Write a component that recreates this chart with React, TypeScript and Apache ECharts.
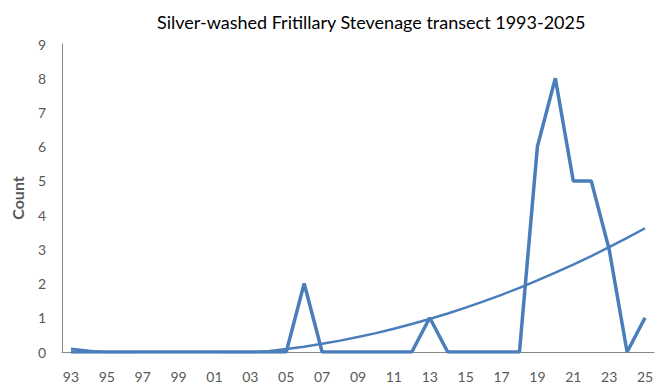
import React, { useEffect, useRef } from "react";
import * as echarts from "echarts";

const years: string[] = [
  "93", "94", "95", "96", "97", "98", "99", "00", "01", "02", "03", "04",
  "05", "06", "07", "08", "09", "10", "11", "12", "13", "14", "15", "16",
  "17", "18", "19", "20", "21", "22", "23", "24", "25",
];
const counts: number[] = [
  0, 0, 0, 0, 0, 0, 0, 0, 0, 0, 0, 0,
  0, 2, 0, 0, 0, 0, 0, 0, 1, 0, 0, 0,
  0, 0, 6, 8, 5, 5, 3, 0, 1,
];
const yTicks: number[] = [0, 1, 2, 3, 4, 5, 6, 7, 8, 9];
const titleText = "Silver-washed Fritillary Stevenage transect 1993-2025";
const yName = "Count";

// Quadratic least-squares trendline fitted to the counts (as the source's polynomial trendline)
function polyTrend(ys: number[]): number[] {
  const n = ys.length;
  let s0 = 0, s1 = 0, s2 = 0, s3 = 0, s4 = 0, t0 = 0, t1 = 0, t2 = 0;
  for (let i = 0; i < n; i++) {
    const x = i;
    s0 += 1; s1 += x; s2 += x * x; s3 += x * x * x; s4 += x * x * x * x;
    t0 += ys[i]; t1 += x * ys[i]; t2 += x * x * ys[i];
  }
  const M = [
    [s0, s1, s2, t0],
    [s1, s2, s3, t1],
    [s2, s3, s4, t2],
  ];
  for (let c = 0; c < 3; c++) {
    for (let r = c + 1; r < 3; r++) {
      const f = M[r][c] / M[c][c];
      for (let k = c; k < 4; k++) M[r][k] -= f * M[c][k];
    }
  }
  const coef = [0, 0, 0];
  for (let r = 2; r >= 0; r--) {
    let s = M[r][3];
    for (let k = r + 1; k < 3; k++) s -= M[r][k] * coef[k];
    coef[r] = s / M[r][r];
  }
  return ys.map((_, i) => coef[0] + coef[1] * i + coef[2] * i * i);
}

export default function App() {
  const ref = useRef<HTMLDivElement>(null);
  useEffect(() => {
    if (!ref.current) return;
    const chart = echarts.init(ref.current, undefined, { renderer: "svg" });
    const font = "Lato, 'Open Sans', sans-serif";
    const blue = "#4A7EBB";
    chart.setOption({
      animation: false,
      backgroundColor: "#ffffff",
      textStyle: { fontFamily: font },
      title: {
        text: titleText,
        left: 152,
        top: 8,
        textStyle: { fontFamily: font, fontSize: 18, fontWeight: "normal", color: "#000000" },
      },
      grid: { left: 62, right: 11, top: 44, bottom: 40, containLabel: false },
      xAxis: {
        type: "category",
        data: years,
        boundaryGap: true,
        axisLine: { show: true, lineStyle: { color: "#868686", width: 1 } },
        axisTick: { show: false },
        axisLabel: {
          interval: 1,
          color: "#595959",
          fontSize: 14,
          fontFamily: font,
          margin: 17,
        },
        splitLine: { show: false },
      },
      yAxis: {
        type: "value",
        min: yTicks[0],
        max: yTicks[yTicks.length - 1],
        interval: 1,
        name: yName,
        nameLocation: "middle",
        nameGap: 37,
        nameTextStyle: { color: "#595959", fontSize: 16, fontWeight: "bold", fontFamily: font },
        axisLine: { show: true, lineStyle: { color: "#868686", width: 1 } },
        axisTick: { show: false },
        axisLabel: { color: "#595959", fontSize: 14, fontFamily: font, margin: 16 },
        splitLine: { show: false },
      },
      series: [
        {
          name: "Count",
          type: "line",
          data: counts,
          symbol: "none",
          lineStyle: { color: blue, width: 3.5 },
          itemStyle: { color: blue },
          z: 3,
        },
        {
          name: "Trend",
          type: "line",
          data: polyTrend(counts),
          symbol: "none",
          smooth: false,
          clip: true,
          lineStyle: { color: blue, width: 2.5 },
          itemStyle: { color: blue },
          z: 2,
        },
      ],
    });
    return () => chart.dispose();
  }, []);
  return <div ref={ref} style={{ width: 665, height: 392, position: "absolute", left: 0, top: 0 }} />;
}
